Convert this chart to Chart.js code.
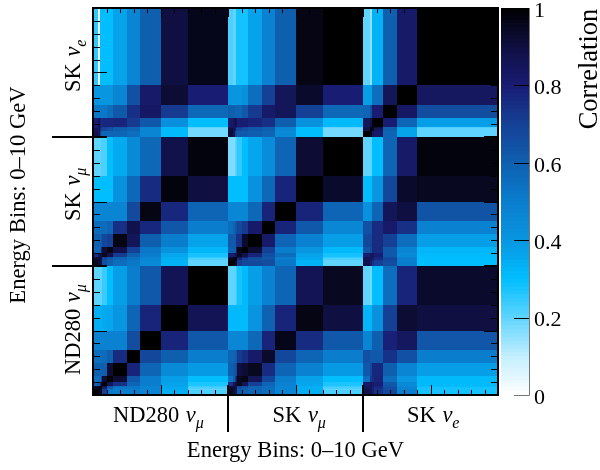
<!DOCTYPE html>
<html>
<head>
<meta charset="utf-8">
<title>Correlation</title>
<script src="https://cdn.jsdelivr.net/npm/chart.js@4/dist/chart.umd.min.js"></script>
<style>
body { margin: 0; background: #fff; }
canvas { display: block; }
</style>
</head>
<body>
<canvas id="corr" width="600" height="470"></canvas>
<script>
// bin edges in GeV, one list per sample
const nd280Edges = [0, 0.4, 0.5, 0.6, 0.7, 1, 1.5, 2.5, 3.5, 5, 7, 10];
const skMuEdges = [0, 0.4, 0.5, 0.6, 0.7, 1, 1.5, 2.5, 3.5, 5, 7, 10];
const skEEdges = [0, 0.5, 0.7, 0.8, 1.5, 2.5, 4, 10];

// rows go from low to high energy, columns are ND280 numu | SK numu | SK nue
const nd280Rows = [
  [1,.97,.95,.95,.7,.52,.5,.5,.47,.34,.22, .95,.9,.88,.85,.62,.6,.58,.55,.47,.34,.22, .88,.85,.8,.74,.68,.5,.28],
  [.97,1,.97,.95,.72,.55,.5,.5,.47,.35,.2, .95,.92,.88,.85,.62,.6,.58,.55,.47,.34,.2, .88,.85,.8,.74,.66,.48,.28],
  [.95,.97,1,.97,.8,.6,.52,.52,.47,.35,.22, .92,.9,.88,.86,.66,.62,.58,.55,.47,.34,.22, .85,.84,.8,.76,.66,.48,.28],
  [.92,.95,.97,1,.88,.66,.55,.52,.47,.36,.24, .9,.92,.9,.88,.7,.66,.58,.55,.47,.34,.24, .85,.85,.8,.78,.64,.46,.3],
  [.6,.62,.8,.95,1,.85,.75,.58,.5,.37,.27, .75,.85,.9,.92,.95,.85,.7,.58,.48,.36,.27, .82,.85,.82,.8,.62,.45,.31],
  [.55,.55,.55,.7,.92,1,.92,.62,.5,.38,.3, .52,.6,.7,.85,.95,.97,.85,.68,.5,.37,.3, .55,.72,.76,.78,.55,.4,.31],
  [.6,.6,.6,.6,.6,.92,1,.78,.58,.45,.39, .6,.62,.64,.68,.9,.92,.95,.76,.58,.48,.39, .62,.68,.77,.77,.6,.47,.38],
  [.55,.55,.55,.55,.56,.6,.76,1,.68,.6,.5, .58,.58,.6,.62,.72,.75,.82,.93,.68,.58,.5, .65,.62,.62,.62,.74,.65,.5],
  [.48,.48,.48,.48,.48,.48,.48,.66,1,.78,.62, .46,.46,.46,.46,.46,.46,.57,.78,.96,.76,.62, .47,.47,.6,.6,.79,.84,.63],
  [.34,.34,.34,.34,.35,.36,.4,.58,.78,1,.86, .31,.31,.31,.31,.31,.31,.41,.59,.78,.97,.9, .32,.32,.42,.42,.7,.92,.9],
  [.2,.2,.2,.2,.24,.3,.38,.5,.62,.86,1, .2,.2,.2,.24,.28,.31,.38,.48,.58,.86,.95, .2,.18,.3,.3,.55,.78,.93]
];
const skMuRows = [
  [.95,.92,.9,.88,.65,.6,.55,.52,.45,.33,.2, 1,.97,.95,.92,.72,.68,.68,.66,.52,.33,.2, .88,.8,.75,.7,.66,.5,.3],
  [.95,.95,.9,.88,.65,.6,.55,.52,.46,.33,.2, .97,1,.97,.95,.72,.68,.66,.66,.52,.33,.2, .88,.82,.78,.72,.68,.48,.3],
  [.92,.92,.92,.9,.68,.62,.58,.54,.46,.34,.22, .95,.97,1,.97,.78,.7,.66,.64,.5,.35,.22, .86,.84,.8,.76,.68,.5,.3],
  [.9,.9,.92,.92,.72,.66,.58,.54,.47,.34,.25, .9,.95,.97,1,.85,.78,.68,.62,.5,.35,.25, .86,.86,.82,.78,.66,.48,.3],
  [.75,.85,.9,.92,.95,.88,.72,.6,.5,.36,.28, .8,.82,.85,.88,.95,.88,.78,.65,.55,.37,.28, .8,.85,.85,.8,.62,.45,.31],
  [.58,.58,.6,.78,.92,.97,.88,.7,.52,.42,.32, .6,.6,.62,.82,.97,1,.92,.7,.5,.4,.31, .64,.66,.76,.76,.62,.47,.32],
  [.6,.6,.6,.62,.68,.7,.97,.85,.6,.5,.37, .62,.62,.62,.75,.75,.93,1,.82,.58,.48,.38, .68,.68,.76,.76,.7,.55,.38],
  [.56,.56,.56,.56,.56,.58,.75,.88,.77,.63,.5, .55,.58,.62,.65,.68,.72,.82,1,.78,.62,.46, .65,.65,.76,.76,.82,.75,.48],
  [.47,.47,.47,.47,.47,.47,.47,.67,.97,.77,.58, .46,.46,.46,.46,.46,.46,.57,.78,1,.78,.58, .42,.42,.58,.58,.85,.9,.64],
  [.3,.3,.3,.3,.3,.3,.42,.57,.76,.98,.9, .3,.3,.3,.3,.3,.3,.42,.57,.78,1,.93, .3,.3,.4,.4,.68,.93,.95],
  [.2,.2,.2,.22,.22,.3,.35,.45,.57,.88,.98, .17,.17,.2,.22,.25,.3,.36,.44,.58,.92,1, .2,.2,.3,.3,.58,.82,.98]
];
const skERows = [
  [.88,.85,.7,.6,.58,.58,.58,.55,.47,.31,.18, .92,.85,.68,.66,.62,.62,.6,.58,.45,.3,.18, 1,.95,.85,.82,.58,.37,.2],
  [.85,.85,.76,.7,.68,.65,.6,.58,.47,.31,.18, .9,.88,.8,.7,.68,.65,.62,.6,.46,.3,.18, .88,1,.95,.85,.6,.37,.2],
  [.8,.85,.8,.72,.7,.68,.62,.58,.47,.31,.2, .85,.82,.82,.78,.72,.68,.62,.6,.46,.3,.2, .85,.98,1,.9,.6,.38,.22],
  [.8,.85,.8,.75,.77,.77,.78,.72,.62,.43,.3, .82,.85,.9,.85,.8,.8,.78,.75,.6,.42,.31, .85,.88,.98,1,.8,.58,.38],
  [.52,.52,.52,.52,.52,.55,.62,.75,.83,.72,.57, .6,.6,.58,.58,.58,.62,.72,.82,.85,.7,.57, .58,.65,.8,.8,1,.83,.66],
  [.4,.4,.4,.4,.4,.4,.47,.65,.82,.92,.8, .4,.4,.4,.4,.4,.42,.55,.7,.85,.93,.8, .38,.38,.55,.55,.85,1,.84],
  [.25,.03,.3,.3,.3,.3,.37,.47,.6,.9,.96, .22,.2,.2,.28,.28,.28,.37,.48,.6,.97,1, .2,.15,.33,.33,.6,.82,1]
];

const sampleNames = ['ND280', 'SK', 'SK'];
const sampleSubs = ['\u03BC', '\u03BC', 'e'];
const axisTitle = 'Energy Bins: 0\u201310 GeV';
const barTitle = 'Correlation';

// colour scale
const paletteStops = [0, 0.1, 0.2, 0.3, 0.4, 0.5, 0.6, 0.7, 0.8, 0.9, 1];
const paletteColors = [
  [255, 255, 255], [195, 238, 255], [95, 212, 255], [0, 190, 255], [8, 150, 225],
  [10, 125, 205], [15, 95, 175], [20, 65, 150], [25, 28, 115], [15, 15, 65], [0, 0, 0]
];

const SERIF = '"Liberation Serif", "Times New Roman", serif';

function valueColor(v) {
  let i = 0;
  while (i < paletteStops.length - 2 && v > paletteStops[i + 1]) i++;
  let t = (v - paletteStops[i]) / (paletteStops[i + 1] - paletteStops[i]);
  let a = paletteColors[i], b = paletteColors[i + 1];
  return 'rgb(' + Math.round(a[0] + (b[0] - a[0]) * t) + ',' +
    Math.round(a[1] + (b[1] - a[1]) * t) + ',' +
    Math.round(a[2] + (b[2] - a[2]) * t) + ')';
}

// all three samples laid end to end on one 0-30 axis
const allEdges = [];
[nd280Edges, skMuEdges, skEEdges].forEach(function (edges, s) {
  edges.forEach(function (e, i) {
    if (i > 0 || s === 0) allEdges.push(e + s * 10);
  });
});
const allRows = nd280Rows.concat(skMuRows, skERows);

const cells = [];
allRows.forEach(function (row, r) {
  row.forEach(function (v, c) {
    cells.push({
      x: (allEdges[c] + allEdges[c + 1]) / 2,
      y: (allEdges[r] + allEdges[r + 1]) / 2,
      x0: allEdges[c], x1: allEdges[c + 1],
      y0: allEdges[r], y1: allEdges[r + 1],
      v: v
    });
  });
});

// matrix and colour bar go under the frame and the ticks
const heatPlugin = {
  id: 'heat',
  beforeDatasetsDraw(chart) {
    const ctx = chart.ctx, x = chart.scales.x, y = chart.scales.y, cb = chart.scales.cb;
    chart.data.datasets[0].data.forEach(function (d) {
      let left = Math.round(x.getPixelForValue(d.x0));
      let right = Math.round(x.getPixelForValue(d.x1));
      let top = Math.round(y.getPixelForValue(d.y1));
      let bottom = Math.round(y.getPixelForValue(d.y0));
      ctx.fillStyle = valueColor(d.v);
      ctx.fillRect(left, top, right - left, bottom - top);
    });
    for (let i = 0; i < 100; i++) {
      let top = Math.round(cb.getPixelForValue((i + 1) / 100));
      let bottom = Math.round(cb.getPixelForValue(i / 100));
      ctx.fillStyle = valueColor((i + 0.5) / 100);
      ctx.fillRect(501, top, 28, bottom - top);
    }
  }
};

function drawLabel(ctx, px, py, rotated, name, sub) {
  ctx.save();
  ctx.translate(px, py);
  if (rotated) ctx.rotate(-Math.PI / 2);
  ctx.fillStyle = '#000';
  ctx.textAlign = 'left';
  ctx.textBaseline = 'alphabetic';
  ctx.font = '22.5px ' + SERIF;
  let text = name + ' ';
  ctx.fillText(text, 0, 0);
  let w = ctx.measureText(text).width + 1;
  ctx.font = 'italic 22.5px ' + SERIF;
  ctx.fillText('\u03BD', w, 0);
  w += ctx.measureText('\u03BD').width;
  ctx.font = 'italic 16px ' + SERIF;
  ctx.fillText(sub, w, 6);
  ctx.restore();
}

const framePlugin = {
  id: 'frame',
  afterDraw(chart) {
    const ctx = chart.ctx, x = chart.scales.x, y = chart.scales.y, cb = chart.scales.cb;
    const a = chart.chartArea;
    ctx.save();
    ctx.strokeStyle = '#000';
    ctx.lineWidth = 1;
    ctx.beginPath();
    for (let i = 1; i < 30; i++) {
      if (i === 10 || i === 20) continue;
      let px = Math.round(x.getPixelForValue(i)) + 0.5;
      let py = Math.round(y.getPixelForValue(i)) + 0.5;
      let major = i % 5 === 0;
      ctx.moveTo(px, a.bottom);
      ctx.lineTo(px, a.bottom - (major ? 10 : 5));
      ctx.moveTo(px, a.top);
      ctx.lineTo(px, a.top + (major ? 9 : 5));
      ctx.moveTo(a.left, py);
      ctx.lineTo(a.left + (major ? 14 : 7), py);
      ctx.moveTo(a.right, py);
      ctx.lineTo(a.right - (major ? 14 : 7), py);
    }
    ctx.stroke();

    // sample dividers run out past the frame
    ctx.lineWidth = 2;
    ctx.beginPath();
    [10, 20].forEach(function (i) {
      let px = Math.round(x.getPixelForValue(i));
      let py = Math.round(y.getPixelForValue(i));
      ctx.moveTo(px, 432);
      ctx.lineTo(px, a.bottom - 10);
      ctx.moveTo(px, a.top);
      ctx.lineTo(px, a.top + 9);
      ctx.moveTo(52, py);
      ctx.lineTo(a.left + 14, py);
      ctx.moveTo(a.right, py);
      ctx.lineTo(a.right - 14, py);
    });
    ctx.stroke();
    ctx.strokeRect(a.left, a.top, a.right - a.left, a.bottom - a.top);

    // colour bar ticks and its grey edge
    ctx.strokeStyle = '#777';
    ctx.lineWidth = 1;
    ctx.beginPath();
    ctx.moveTo(529.5, 8);
    ctx.lineTo(529.5, 395.5);
    ctx.lineTo(514, 395.5);
    ctx.stroke();
    ctx.strokeStyle = '#000';
    ctx.beginPath();
    [0.2, 0.4, 0.6, 0.8].forEach(function (v) {
      let py = Math.round(cb.getPixelForValue(v)) + 0.5;
      ctx.moveTo(514, py);
      ctx.lineTo(529, py);
    });
    ctx.stroke();

    // sample labels under and beside the matrix
    drawLabel(ctx, 113, 422, false, sampleNames[0], sampleSubs[0]);
    drawLabel(ctx, 272.5, 422, false, sampleNames[1], sampleSubs[1]);
    drawLabel(ctx, 407, 422, false, sampleNames[2], sampleSubs[2]);
    drawLabel(ctx, 80, 375, true, sampleNames[0], sampleSubs[0]);
    drawLabel(ctx, 80, 221, true, sampleNames[1], sampleSubs[1]);
    drawLabel(ctx, 80, 92, true, sampleNames[2], sampleSubs[2]);

    // rotated titles, both read upwards
    ctx.fillStyle = '#000';
    ctx.textAlign = 'center';
    ctx.textBaseline = 'alphabetic';
    ctx.font = '22.6px ' + SERIF;
    ctx.save();
    ctx.translate(25, 195);
    ctx.rotate(-Math.PI / 2);
    ctx.fillText(axisTitle, 0, 0);
    ctx.restore();
    ctx.font = '26.5px ' + SERIF;
    ctx.translate(597, 69);
    ctx.rotate(-Math.PI / 2);
    ctx.fillText(barTitle, 0, 0);
    ctx.restore();
  }
};

new Chart(document.getElementById('corr'), {
  type: 'scatter',
  data: {
    datasets: [{ data: cells, pointRadius: 0, pointHoverRadius: 0 }]
  },
  plugins: [heatPlugin, framePlugin],
  options: {
    responsive: false,
    animation: false,
    events: [],
    layout: { padding: { left: 93, top: 8, right: 0, bottom: 0 } },
    plugins: { legend: { display: false }, tooltip: { enabled: false } },
    scales: {
      x: {
        type: 'linear', min: 0, max: 30,
        grid: { display: false },
        border: { display: false },
        ticks: { display: false },
        title: {
          display: true, text: axisTitle, color: '#000',
          font: { family: SERIF, size: 22.6 },
          padding: { top: 0, bottom: 5 }
        },
        afterFit(scale) {
          scale.height = 75;
          scale.paddingLeft = 0;
          scale.paddingRight = 0;
        }
      },
      y: {
        type: 'linear', min: 0, max: 30, display: false
      },
      cb: {
        type: 'linear', position: 'right', min: 0, max: 1,
        grid: { display: false, drawTicks: false },
        border: { display: false },
        ticks: {
          stepSize: 0.2, padding: 36, color: '#000', labelOffset: 3,
          font: { family: SERIF, size: 22 },
          callback: function (v) { return String(Math.round(v * 10) / 10); }
        },
        afterFit(scale) {
          scale.width = 102;
          scale.paddingTop = 0;
          scale.paddingBottom = 0;
        }
      }
    }
  }
});
</script>
</body>
</html>
